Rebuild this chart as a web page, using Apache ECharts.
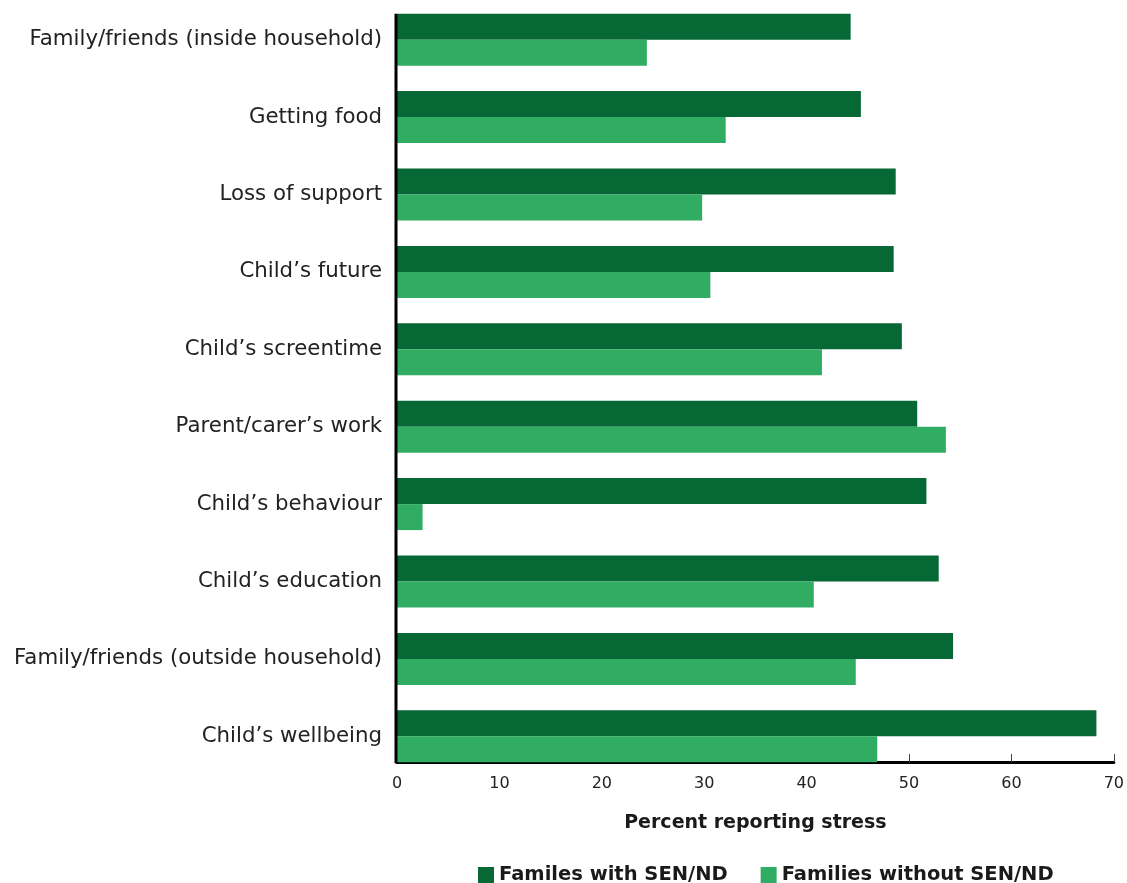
<!DOCTYPE html>
<html>
<head>
<meta charset="utf-8">
<script src="https://cdn.jsdelivr.net/npm/echarts@6/dist/echarts.min.js"></script>
<style>
html,body{margin:0;padding:0;background:#fff;}
#main{width:1127px;height:883px;}
</style>
</head>
<body>
<div id="main"></div>
<script>
const categories = [
  "Family/friends (inside household)",
  "Getting food",
  "Loss of support",
  "Child\u2019s future",
  "Child\u2019s screentime",
  "Parent/carer\u2019s work",
  "Child\u2019s behaviour",
  "Child\u2019s education",
  "Family/friends (outside household)",
  "Child\u2019s wellbeing"
];
const withSEN = [44.3, 45.3, 48.7, 48.5, 49.3, 50.8, 51.7, 52.9, 54.3, 68.3];
const withoutSEN = [24.4, 32.1, 29.8, 30.6, 41.5, 53.6, 2.5, 40.7, 44.8, 46.9];
const seriesNames = ["Familes with SEN/ND", "Families without SEN/ND"];
const xTicks = [0, 10, 20, 30, 40, 50, 60, 70];

const FONT = "'DejaVu Sans', 'Noto Sans', sans-serif";
const chart = echarts.init(document.getElementById('main'), null, {renderer: 'canvas'});
const option = {
  animation: false,
  backgroundColor: '#fff',
  textStyle: {fontFamily: FONT},
  grid: {left: 397, right: 13, top: 1, bottom: 108, containLabel: false},
  legend: {
    top: 860,
    left: 473,
    itemWidth: 16, itemHeight: 16, itemGap: 33,
    icon: 'rect',
    textStyle: {fontFamily: FONT, fontSize: 19.5, fontWeight: 'bold', color: '#1a1a1a'},
    data: seriesNames
  },
  xAxis: {
    type: 'value',
    min: xTicks[0], max: xTicks[xTicks.length - 1], interval: 10,
    offset: -13,
    name: 'Percent reporting stress',
    nameLocation: 'middle',
    nameGap: 52,
    nameTextStyle: {fontFamily: FONT, fontSize: 19, fontWeight: 'bold', color: '#1a1a1a'},
    axisLine: {show: true, lineStyle: {color: '#000', width: 3}},
    axisTick: {show: true, inside: true, length: 8, lineStyle: {color: '#444', width: 1}},
    axisLabel: {fontFamily: FONT, fontSize: 16, color: '#222', margin: 14},
    splitLine: {show: false}
  },
  yAxis: {
    type: 'category',
    data: categories,
    inverse: true,
    axisLine: {show: false},
    axisTick: {show: false},
    axisLabel: {fontFamily: FONT, fontSize: 21.3, color: '#222', margin: 15}
  },
  series: [
    {name: seriesNames[0], type: 'bar', data: withSEN, barWidth: 26, barGap: '0%', itemStyle: {color: '#066835'}},
    {name: seriesNames[1], type: 'bar', data: withoutSEN, barWidth: 26, barGap: '0%', itemStyle: {color: '#31ad63'}}
  ]
};
chart.setOption(option);

// vertical axis line from top of first bar group down to the x axis line
const x0 = chart.convertToPixel({xAxisIndex: 0}, 0);
const c0 = chart.convertToPixel({yAxisIndex: 0}, categories[0]);
const cN = chart.convertToPixel({yAxisIndex: 0}, categories[categories.length - 1]);
const yTop = c0 - 26;
const yBot = cN + 26 + 1;
chart.setOption({
  graphic: [{
    type: 'line', z: 10,
    shape: {x1: x0 - 1, y1: yTop, x2: x0 - 1, y2: yBot},
    style: {stroke: '#000', lineWidth: 3}
  }]
});
</script>
</body>
</html>
